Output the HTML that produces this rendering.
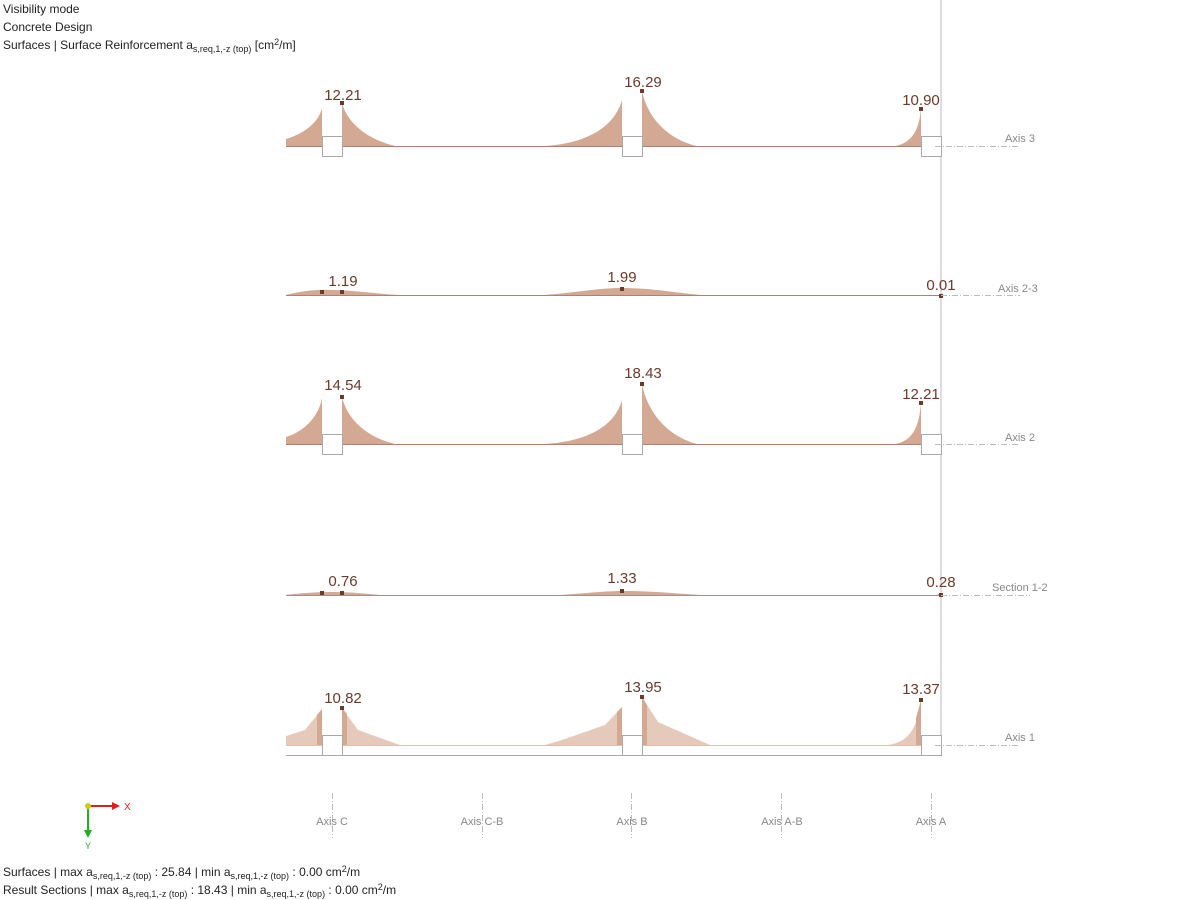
<!DOCTYPE html><html><head><style>body{margin:0;background:#fff}svg{display:block}text{font-family:"Liberation Sans",sans-serif}</style></head><body>
<svg width="1200" height="900" xmlns="http://www.w3.org/2000/svg">
<g font-size="12" fill="#222">
<text x="3" y="13">Visibility mode</text>
<text x="3" y="31">Concrete Design</text>
<text x="3" y="49">Surfaces | Surface Reinforcement a<tspan font-size="9" dy="3">s,req,1,-z (top)</tspan><tspan dy="-3"> [cm</tspan><tspan font-size="9" dy="-4">2</tspan><tspan dy="4">/m]</tspan></text>
<text x="3" y="876">Surfaces | max a<tspan font-size="9" dy="3">s,req,1,-z (top)</tspan><tspan dy="-3"> : 25.84 | min a</tspan><tspan font-size="9" dy="3">s,req,1,-z (top)</tspan><tspan dy="-3"> : 0.00 cm</tspan><tspan font-size="9" dy="-4">2</tspan><tspan dy="4">/m</tspan></text>
<text x="3" y="894">Result Sections | max a<tspan font-size="9" dy="3">s,req,1,-z (top)</tspan><tspan dy="-3"> : 18.43 | min a</tspan><tspan font-size="9" dy="3">s,req,1,-z (top)</tspan><tspan dy="-3"> : 0.00 cm</tspan><tspan font-size="9" dy="-4">2</tspan><tspan dy="4">/m</tspan></text>
</g>
<line x1="941" y1="0" x2="941" y2="755" stroke="#bbb"/>
<g fill="#d4a994">
<path d="M286,146 L286,139 C300,135 318,125 322,108 L322,146Z"/>
<path d="M342,146 L342,103 C348,125 370,140 395,146Z"/>
<path d="M545,146 C590,143 615,125 622,100 L622,146Z"/>
<path d="M642,146 L642,91 C648,120 670,140 697,146Z"/>
<path d="M895,146 C912,143 919,130 921,109 L921,146Z"/>
<path d="M286,444 L286,437 C300,433 318,420 322,398 L322,444Z"/>
<path d="M342,444 L342,397 C348,422 370,438 395,444Z"/>
<path d="M545,444 C590,441 615,425 622,400 L622,444Z"/>
<path d="M642,444 L642,384 C648,415 670,437 697,444Z"/>
<path d="M895,444 C912,441 919,428 921,403 L921,444Z"/>
<path d="M286,295 C300,291 320,289 332,290 C350,290 380,294 400,295Z"/>
<path d="M545,295 C580,292 600,288 622,288 C650,288 670,292 700,295Z"/>
<path d="M286,595 C300,593 320,592 332,592 C350,592 370,594 380,595Z"/>
<path d="M560,595 C590,593 605,591 622,591 C650,591 670,593 700,595Z"/>
<path d="M936,595 L941,593 L941,595Z"/>
</g>
<g fill="#e5c9bb">
<path d="M286,745 L286,736 L305,730 L322,709 L322,745Z"/>
<path d="M342,745 L342,708 L358,730 L400,745Z"/>
<path d="M545,745 L562,740 L605,725 L622,707 L622,745Z"/>
<path d="M642,745 L642,697 L658,722 L710,745Z"/>
<path d="M888,745 C908,742 917,730 921,700 L921,745Z"/>
</g>
<g fill="#d4a994">
<path d="M317,745 L317,715 L322,709 L322,745Z"/>
<path d="M342,745 L342,708 L347,714 L347,745Z"/>
<path d="M617,745 L617,712 L622,707 L622,745Z"/>
<path d="M642,745 L642,697 L647,705 L647,745Z"/>
<path d="M916,745 L916,718 L921,700 L921,745Z"/>
</g>
<g stroke="#b08070" stroke-width="1">
<line x1="286" y1="146.5" x2="941" y2="146.5"/><line x1="286" y1="295.5" x2="941" y2="295.5"/><line x1="286" y1="444.5" x2="941" y2="444.5"/><line x1="286" y1="595.5" x2="941" y2="595.5" stroke="#a09090"/><line x1="286" y1="745.5" x2="941" y2="745.5" stroke="#e0c0b0"/>
</g>
<line x1="286" y1="755.5" x2="941" y2="755.5" stroke="#aaa"/>
<g fill="#fff" stroke="#aaa">
<rect x="322.5" y="136.5" width="20" height="20"/><rect x="622.5" y="136.5" width="20" height="20"/><rect x="921.5" y="136.5" width="20" height="20"/>
<rect x="322.5" y="434.5" width="20" height="20"/><rect x="622.5" y="434.5" width="20" height="20"/><rect x="921.5" y="434.5" width="20" height="20"/>
<rect x="322.5" y="735.5" width="20" height="20"/><rect x="622.5" y="735.5" width="20" height="20"/><rect x="921.5" y="735.5" width="20" height="20"/>
</g>
<g fill="#6b3a2a">
<rect x="340" y="101" width="4" height="4"/><rect x="640" y="89" width="4" height="4"/><rect x="919" y="107" width="4" height="4"/>
<rect x="320" y="290" width="4" height="4"/><rect x="340" y="290" width="4" height="4"/><rect x="620" y="287" width="4" height="4"/><rect x="939" y="294" width="4" height="4"/>
<rect x="340" y="395" width="4" height="4"/><rect x="640" y="382" width="4" height="4"/><rect x="919" y="401" width="4" height="4"/>
<rect x="320" y="591" width="4" height="4"/><rect x="340" y="591" width="4" height="4"/><rect x="620" y="589" width="4" height="4"/><rect x="939" y="593" width="4" height="4"/>
<rect x="340" y="706" width="4" height="4"/><rect x="640" y="695" width="4" height="4"/><rect x="919" y="698" width="4" height="4"/>
</g>
<g fill="#6b3a2a" font-size="15" text-anchor="middle">
<text x="343" y="100">12.21</text><text x="643" y="87">16.29</text><text x="921" y="105">10.90</text>
<text x="343" y="286">1.19</text><text x="622" y="282">1.99</text><text x="941" y="290">0.01</text>
<text x="343" y="390">14.54</text><text x="643" y="378">18.43</text><text x="921" y="399">12.21</text>
<text x="343" y="586">0.76</text><text x="622" y="583">1.33</text><text x="941" y="587">0.28</text>
<text x="343" y="703">10.82</text><text x="643" y="692">13.95</text><text x="921" y="694">13.37</text>
</g>
<g stroke="#bbb" stroke-dasharray="6,2,1,2">
<line x1="935" y1="146.5" x2="1020" y2="146.5"/><line x1="941" y1="295.5" x2="1020" y2="295.5"/><line x1="935" y1="444.5" x2="1020" y2="444.5"/><line x1="941" y1="595.5" x2="1030" y2="595.5"/><line x1="935" y1="745.5" x2="1020" y2="745.5"/>
<line x1="332.5" y1="793" x2="332.5" y2="838"/><line x1="482.5" y1="793" x2="482.5" y2="838"/><line x1="631.5" y1="793" x2="631.5" y2="838"/><line x1="781.5" y1="793" x2="781.5" y2="838"/><line x1="931.5" y1="793" x2="931.5" y2="838"/>
</g>
<g fill="#888" font-size="11">
<text x="1005" y="142">Axis 3</text><text x="998" y="292">Axis  2-3</text><text x="1005" y="441">Axis 2</text><text x="992" y="591">Section 1-2</text><text x="1005" y="741">Axis 1</text>
<g text-anchor="middle"><text x="332" y="825">Axis C</text><text x="482" y="825">Axis C-B</text><text x="632" y="825">Axis B</text><text x="782" y="825">Axis A-B</text><text x="931" y="825">Axis A</text></g>
</g>
<line x1="88" y1="806" x2="114" y2="806" stroke="#e02020" stroke-width="2"/><path d="M112,802 L120,806 L112,810Z" fill="#e02020"/>
<text x="124" y="810" font-size="10" fill="#e02020">X</text>
<line x1="88" y1="806" x2="88" y2="832" stroke="#20b020" stroke-width="2"/><path d="M84,830 L88,838 L92,830Z" fill="#20b020"/>
<text x="85" y="849" font-size="9" fill="#20b020">Y</text>
<circle cx="88" cy="806" r="3" fill="#e0c020"/>
</svg></body></html>
